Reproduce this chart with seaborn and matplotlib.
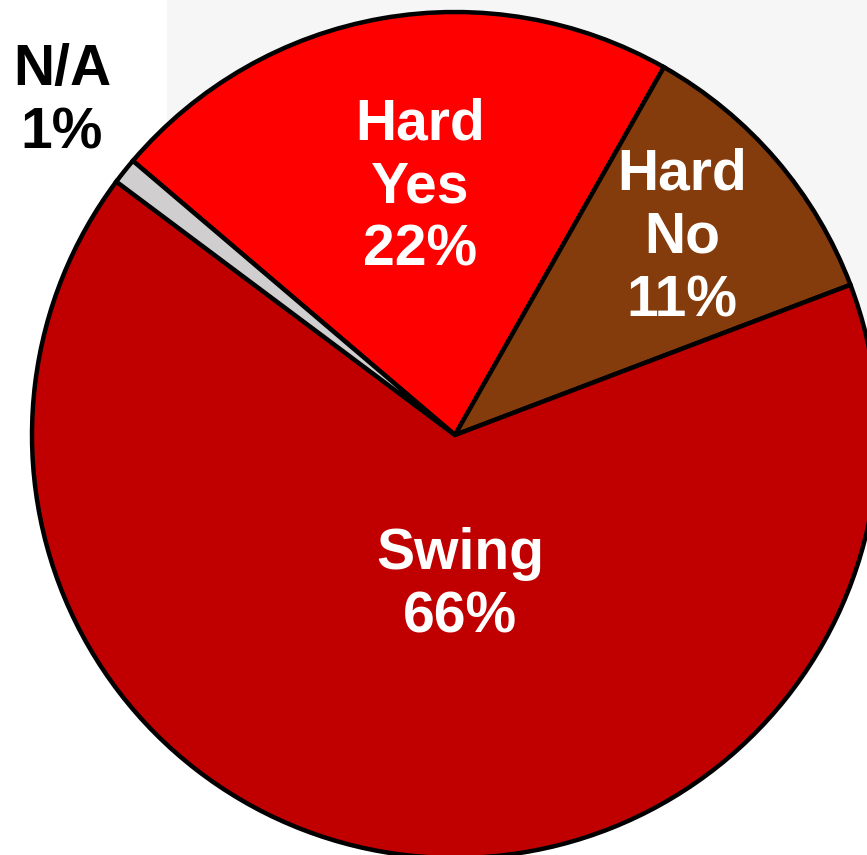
import matplotlib
matplotlib.use("Agg")
import matplotlib.pyplot as plt
from matplotlib.patches import Rectangle
import seaborn as sns

# Dados do gráfico (ordem horária a partir de "Hard Yes")
categorias = ["Hard\nYes", "Hard\nNo", "Swing", "N/A"]
valores = [22, 11, 66, 1]
cores = ["#FF0000", "#843C0C", "#C00000", "#D0CECE"]

# Posição dos rótulos (coordenadas do eixo, raio do pie = 1)
pos_rotulos = [(-0.083, 0.585), (0.537, 0.466), (0.012, -0.357), (-0.929, 0.787)]
cor_rotulos = ["white", "white", "white", "black"]

sns.set_theme(style="white")
plt.rcParams['font.family'] = ['Liberation Sans', 'DejaVu Sans']

fig = plt.figure(figsize=(8.67, 8.55), dpi=100)
fig.patch.set_facecolor('white')

ax = fig.add_axes([0, 0, 1, 1])
ax.patch.set_alpha(0)

# Fundo levemente cinza do slide original (atrás do pie)
ax.add_patch(Rectangle((167 / 867, 1 - 330 / 855), 1, 330 / 855,
                       transform=fig.transFigure, facecolor='#F6F6F6',
                       edgecolor='none', zorder=-5, clip_on=False))

ax.pie(
    valores,
    colors=cores,
    startangle=139.6,
    counterclock=False,
    radius=1,
    wedgeprops={'edgecolor': 'black', 'linewidth': 3.2},
)

for cat, val, (x, y), c in zip(categorias, valores, pos_rotulos, cor_rotulos):
    ax.text(x, y, f"{cat}\n{val}%", ha='center', va='center', color=c,
            fontsize=41, fontweight='bold', linespacing=1.22)

ax.set_xlim(-455 / 423, 412 / 423)
ax.set_ylim(-420 / 423, 435 / 423)
ax.set_aspect('equal')
ax.axis('off')

fig.savefig("out.png", dpi=100, facecolor='white')
plt.close(fig)
